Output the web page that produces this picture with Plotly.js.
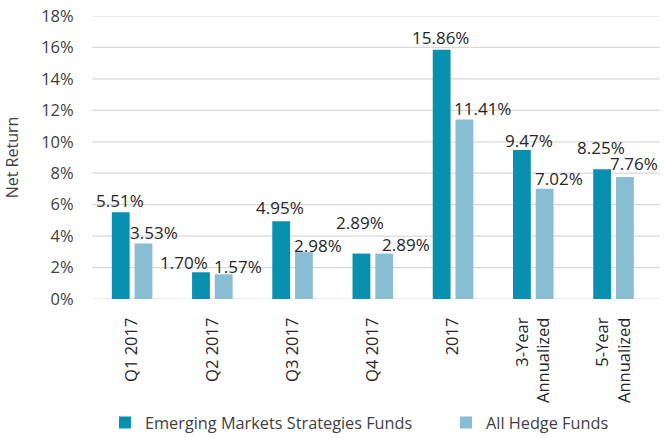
<!DOCTYPE html>
<html>
<head>
<meta charset="utf-8">
<script src="https://cdn.plot.ly/plotly-3.0.1.min.js"></script>
<style>html,body{margin:0;padding:0;background:#fff;}#chart{width:664px;height:438px;}</style>
</head>
<body>
<div id="chart"></div>
<script>
// ---- data ----
var categories = ["Q1 2017", "Q2 2017", "Q3 2017", "Q4 2017", "2017", "3-Year<br>Annualized", "5-Year<br>Annualized"];
var emergingMarkets = [5.51, 1.70, 4.95, 2.89, 15.86, 9.47, 8.25];
var allHedgeFunds = [3.53, 1.57, 2.98, 2.89, 11.41, 7.02, 7.76];
var seriesNames = ["Emerging Markets Strategies Funds", "All Hedge Funds"];
var yTickValues = [0, 2, 4, 6, 8, 10, 12, 14, 16, 18];
var yTickLabels = ["0%", "2%", "4%", "6%", "8%", "10%", "12%", "14%", "16%", "18%"];

// ---- styles / label placement (pixel offsets of labels relative to their bars) ----
var darkColor = "#0790b0";
var lightColor = "#88bdd4";
var gridColor = "#d9d9d9";
var barCenterOffset = 11.5;
var darkLabelDx = [-1, -17, -1, -1, -1, 7, -1];
var darkLabelDy = [7, 5, 9, 27, 8, 5, 17];
var lightLabelDx = [10, 14, 14, 22, 18, 14, 9];
var lightLabelDy = [7, 3, 2, 5, 7, 6, 9];
var baseDy = -9;

var font = "'Open Sans', 'Noto Sans', sans-serif";

var traces = [
  {type: "bar", name: seriesNames[0], x: categories, y: emergingMarkets, marker: {color: darkColor}, legend: "legend"},
  {type: "bar", name: seriesNames[1], x: categories, y: allHedgeFunds, marker: {color: lightColor}, legend: "legend2"}
];

var annotations = [];
categories.forEach(function (c, i) {
  annotations.push({x: i, y: emergingMarkets[i], xref: "x", yref: "y", text: emergingMarkets[i].toFixed(2) + "%",
    showarrow: false, yanchor: "bottom", xanchor: "center",
    xshift: -barCenterOffset + darkLabelDx[i], yshift: darkLabelDy[i] + baseDy,
    font: {family: font, size: 17, color: "#262626"}});
  annotations.push({x: i, y: allHedgeFunds[i], xref: "x", yref: "y", text: allHedgeFunds[i].toFixed(2) + "%",
    showarrow: false, yanchor: "bottom", xanchor: "center",
    xshift: barCenterOffset + lightLabelDx[i], yshift: lightLabelDy[i] + baseDy,
    font: {family: font, size: 17, color: "#262626"}});
});

// horizontal gridlines: thin filled bands anchored on the y axis scale at each tick value
var shapes = yTickValues.map(function (v) {
  return {type: "rect", xref: "paper", yref: "y", x0: 0, x1: 1, ysizemode: "pixel", yanchor: v, y0: -0.6, y1: 0.6,
    layer: "below", fillcolor: gridColor, line: {width: 0}};
});

var legendFont = {family: font, size: 16.3, color: "#404040"};
var layout = {
  width: 664, height: 438,
  margin: {l: 92, r: 4, t: 16, b: 139},
  paper_bgcolor: "#ffffff", plot_bgcolor: "#ffffff",
  font: {family: font, size: 16, color: "#404040"},
  barmode: "group",
  bargap: 0.433,
  bargroupgap: 0.217,
  showlegend: true,
  legend: {orientation: "h", xref: "container", x: 105 / 664, xanchor: "left", yref: "container", y: 15 / 438, yanchor: "middle", font: legendFont},
  legend2: {orientation: "h", xref: "container", x: 446 / 664, xanchor: "left", yref: "container", y: 15 / 438, yanchor: "middle", font: legendFont},
  xaxis: {type: "category", tickangle: -90, showgrid: false, zeroline: false, showline: false,
    ticks: "outside", ticklen: 11, tickcolor: "rgba(0,0,0,0)", automargin: false,
    tickfont: {family: font, size: 16.5, color: "#262626"}},
  yaxis: {range: [0, 18], tickmode: "array", tickvals: yTickValues, ticktext: yTickLabels,
    showgrid: false, zeroline: false, showline: false,
    ticks: "outside", ticklen: 14, tickcolor: "rgba(0,0,0,0)", automargin: false,
    tickfont: {family: font, size: 16.5, color: "#404040"},
    title: {text: "Net Return", standoff: 18, font: {family: font, size: 16, color: "#404040"}}},
  annotations: annotations,
  shapes: shapes
};

Plotly.newPlot("chart", traces, layout, {displayModeBar: false});
</script>
</body>
</html>
